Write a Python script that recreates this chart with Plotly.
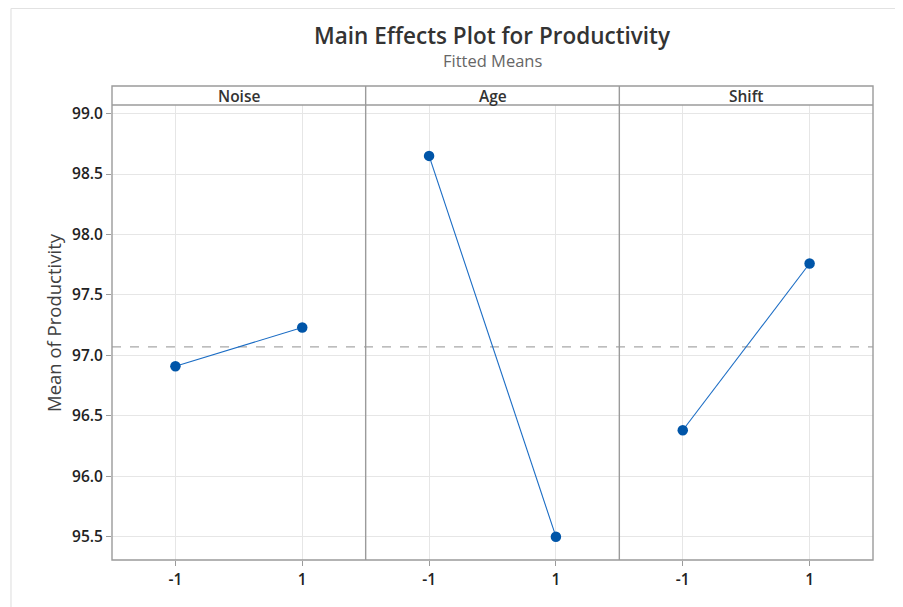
import plotly.graph_objects as go

# ---- data ----
factors = ["Noise", "Age", "Shift"]
levels = ["-1", "1"]
level_values = [-1, 1]
noise_means = [96.91, 97.23]
age_means = [98.65, 95.50]
shift_means = [96.38, 97.76]
grand_mean = 97.07
y_ticks = [95.5, 96.0, 96.5, 97.0, 97.5, 98.0, 98.5, 99.0]
y_tick_labels = ["95.5", "96.0", "96.5", "97.0", "97.5", "98.0", "98.5", "99.0"]

series = [noise_means, age_means, shift_means]

FONT = "Open Sans"
frame_col = "#9b9b9b"
grid_col = "#e6e6e6"
marker_col = "#0055a8"
line_col = "#1a6cc4"

OFF = 8  # page body offset
W, H = 903 - OFF, 607 - OFF
L, R, T, B = 112 - OFF, 30, 105 - OFF, 47
pw = W - L - R
ph = H - T - B
strip_top = 1 + 19 / ph


def px_x(page_x):
    return (page_x - OFF - L) / pw


def px_y(page_y):
    return (H - B - (page_y - OFF)) / ph


fig = go.Figure()
axis_ids = ["x", "x2", "x3"]
for i, (name, vals) in enumerate(zip(factors, series)):
    fig.add_trace(go.Scatter(
        x=level_values, y=vals, xaxis=axis_ids[i], yaxis="y",
        mode="lines+markers",
        line=dict(color=line_col, width=1.1),
        marker=dict(color=marker_col, size=10.5),
        name=name, showlegend=False, hoverinfo="x+y",
    ))

tickfont = dict(family=FONT, size=15.5, color="#222222", weight=600)
layout = dict(
    width=W, height=H,
    margin=dict(l=L, r=R, t=T, b=B),
    paper_bgcolor="white", plot_bgcolor="white",
    font=dict(family=FONT, color="#333333"),
    showlegend=False,
)
for i in range(3):
    key = "xaxis" if i == 0 else f"xaxis{i+1}"
    layout[key] = dict(
        domain=[i / 3, (i + 1) / 3], anchor="y",
        range=[-2, 2], tickmode="array", tickvals=level_values, ticktext=levels,
        showgrid=True, gridcolor=grid_col, gridwidth=1, zeroline=False,
        showline=False, ticks="outside", ticklen=5, tickcolor=frame_col,
        tickfont=tickfont, fixedrange=True,
    )
layout["yaxis"] = dict(
    domain=[0, 1], anchor="x",
    range=[95.307, 99.071], tickmode="array", tickvals=y_ticks, ticktext=y_tick_labels,
    showgrid=True, gridcolor=grid_col, gridwidth=1, zeroline=False,
    showline=False, ticks="outside", ticklen=5, tickcolor=frame_col,
    tickfont=tickfont, fixedrange=True,
)
fig.update_layout(**layout)

shapes = []
# grand mean reference line
shapes.append(dict(type="line", xref="paper", yref="y", x0=0, x1=1, y0=grand_mean, y1=grand_mean,
                   line=dict(color="#a8a8a8", width=1.2, dash="dash"), layer="below"))
# frame
shapes.append(dict(type="rect", xref="paper", yref="paper", x0=0, x1=1, y0=0, y1=strip_top,
                   line=dict(color=frame_col, width=1.4), layer="above"))
shapes.append(dict(type="line", xref="paper", yref="paper", x0=0, x1=1, y0=1, y1=1,
                   line=dict(color=frame_col, width=1.4), layer="above"))
for xv in [1 / 3, 2 / 3]:
    shapes.append(dict(type="line", xref="paper", yref="paper", x0=xv, x1=xv, y0=0, y1=strip_top,
                       line=dict(color=frame_col, width=1.4), layer="above"))
# outer light frame of the image
shapes.append(dict(type="line", xref="paper", yref="paper", x0=px_x(11), x1=px_x(11),
                   y0=px_y(620), y1=px_y(8.5), line=dict(color="#e2e2e2", width=1.2)))
shapes.append(dict(type="line", xref="paper", yref="paper", x0=px_x(11), x1=px_x(910),
                   y0=px_y(8.5), y1=px_y(8.5), line=dict(color="#e2e2e2", width=1.2)))
fig.update_layout(shapes=shapes)

ann = []
for i, name in enumerate(factors):
    ann.append(dict(text=name, xref="paper", yref="paper", x=(i + 0.5) / 3, y=(1 + strip_top) / 2,
                    xanchor="center", yanchor="middle", showarrow=False,
                    font=dict(family=FONT, size=15.5, color="#333333", weight=600)))
# title & subtitle
ann.append(dict(text="Main Effects Plot for Productivity", xref="paper", yref="paper",
                x=0.5, y=px_y(35), xanchor="center", yanchor="middle", showarrow=False,
                font=dict(family=FONT, size=22.5, color="#333333", weight=600)))
ann.append(dict(text="Fitted Means", xref="paper", yref="paper",
                x=0.5, y=px_y(61), xanchor="center", yanchor="middle", showarrow=False,
                font=dict(family=FONT, size=16.5, color="#666666")))
# y title
ann.append(dict(text="Mean of Productivity", xref="paper", yref="paper",
                x=px_x(53), y=px_y(323), xanchor="center", yanchor="middle",
                showarrow=False, textangle=-90,
                font=dict(family=FONT, size=18.5, color="#404040")))
fig.update_layout(annotations=ann)

fig.write_html("out.html")
